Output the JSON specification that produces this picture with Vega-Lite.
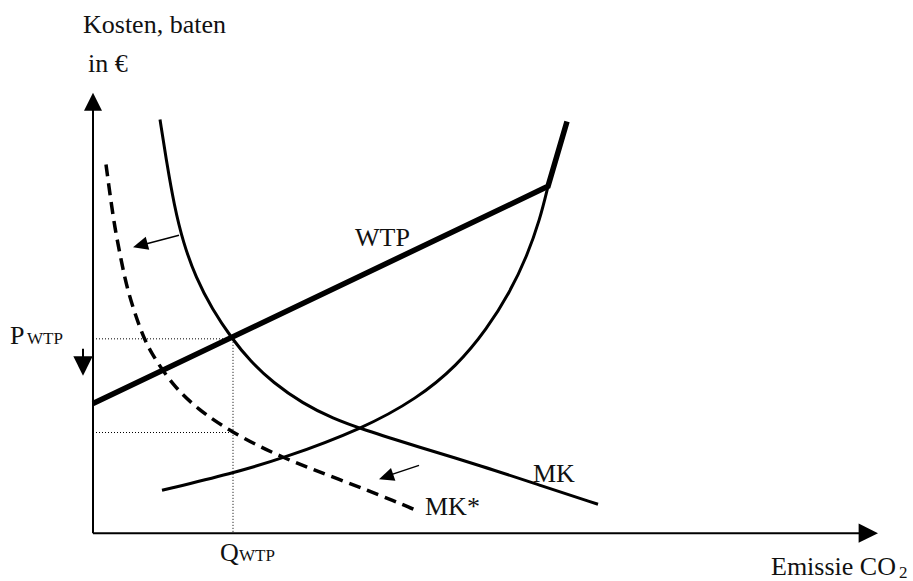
{
  "$schema": "https://vega.github.io/schema/vega-lite/v6.json",
  "width": 913,
  "height": 581,
  "autosize": {"type": "fit", "contains": "padding"},
  "padding": 0,
  "background": "white",
  "config": {"view": {"stroke": null}},
  "datasets": {
    "mk": [
      {"u": 67, "v": 415}, {"u": 74, "v": 370}, {"u": 81, "v": 330}, {"u": 90, "v": 292},
      {"u": 103, "v": 256}, {"u": 119, "v": 225}, {"u": 139, "v": 195}, {"u": 157, "v": 173},
      {"u": 180, "v": 151}, {"u": 210, "v": 130}, {"u": 240, "v": 115}, {"u": 270, "v": 104},
      {"u": 324, "v": 87}, {"u": 390, "v": 67}, {"u": 447, "v": 48}, {"u": 505, "v": 29}
    ],
    "ucurve": [
      {"u": 69, "v": 43}, {"u": 139, "v": 60}, {"u": 190, "v": 75}, {"u": 270, "v": 105},
      {"u": 324, "v": 135}, {"u": 364, "v": 168}, {"u": 394, "v": 205}, {"u": 417, "v": 242},
      {"u": 434, "v": 278}, {"u": 447, "v": 315}, {"u": 455, "v": 348}
    ],
    "mkstar": [
      {"u": 13, "v": 370}, {"u": 17, "v": 340}, {"u": 22, "v": 305}, {"u": 28, "v": 275},
      {"u": 34, "v": 245}, {"u": 47, "v": 205}, {"u": 57, "v": 182}, {"u": 80, "v": 148},
      {"u": 104, "v": 125}, {"u": 137, "v": 102}, {"u": 190, "v": 75}, {"u": 244, "v": 55},
      {"u": 307, "v": 30}, {"u": 325, "v": 22}
    ],
    "wtp": [
      {"u": 0, "v": 130}, {"u": 455, "v": 348}, {"u": 474, "v": 413}
    ],
    "axes": [
      {"u": 0, "v": 0, "u2": 0, "v2": 432},
      {"u": 0, "v": 0, "u2": 775, "v2": 0}
    ],
    "dots": [
      {"u": 0, "v": 195, "u2": 140, "v2": 195},
      {"u": 140, "v": 195, "u2": 140, "v2": 0},
      {"u": 0, "v": 101, "u2": 140, "v2": 101}
    ],
    "arrows": [
      {"u": 86, "v": 299, "u2": 48, "v2": 289},
      {"u": 326, "v": 68, "u2": 293, "v2": 57}
    ],
    "downarrow": [{"u": -10, "v": 185, "u2": -10, "v2": 168}],
    "tipY": [{"u": 0, "v": 442}],
    "tipX": [{"u": 785, "v": 0}],
    "tipDown": [{"u": -10, "v": 158}],
    "tip1": [{"u": 40, "v": 287}],
    "tip2": [{"u": 286, "v": 54}],
    "bigText": [
      {"u": -10, "v": 502, "t": "Kosten, baten"},
      {"u": -5, "v": 463, "t": "in €"},
      {"u": 262, "v": 288, "t": "WTP"},
      {"u": 440, "v": 51, "t": "MK"},
      {"u": 332, "v": 18, "t": "MK*"},
      {"u": -83, "v": 190, "t": "P"},
      {"u": 127, "v": -28, "t": "Q"},
      {"u": 678, "v": -42, "t": "Emissie CO"}
    ],
    "smallText": [
      {"u": -66, "v": 190, "t": "WTP"},
      {"u": 146, "v": -28, "t": "WTP"},
      {"u": 806, "v": -45, "t": "2"}
    ]
  },
  "encoding": {
    "x": {"field": "u", "type": "quantitative", "scale": {"domain": [-93, 820], "nice": false, "zero": false}, "axis": null},
    "y": {"field": "v", "type": "quantitative", "scale": {"domain": [-46, 535], "nice": false, "zero": false}, "axis": null}
  },
  "layer": [
    {"data": {"name": "dots"}, "mark": {"type": "rule", "color": "black", "strokeWidth": 1, "strokeDash": [1, 2]},
     "encoding": {"x2": {"field": "u2"}, "y2": {"field": "v2"}}},
    {"data": {"name": "axes"}, "mark": {"type": "rule", "color": "black", "strokeWidth": 2},
     "encoding": {"x2": {"field": "u2"}, "y2": {"field": "v2"}}},
    {"data": {"name": "ucurve"}, "mark": {"type": "line", "color": "black", "strokeWidth": 3, "interpolate": "basis"}, "encoding": {}},
    {"data": {"name": "mk"}, "mark": {"type": "line", "color": "black", "strokeWidth": 3, "interpolate": "basis"}, "encoding": {}},
    {"data": {"name": "mkstar"}, "mark": {"type": "line", "color": "black", "strokeWidth": 3.5, "strokeDash": [12, 7], "interpolate": "basis"}, "encoding": {}},
    {"data": {"name": "wtp"}, "mark": {"type": "line", "color": "black", "strokeWidth": 5.5, "strokeJoin": "miter"}, "encoding": {}},
    {"data": {"name": "arrows"}, "mark": {"type": "rule", "color": "black", "strokeWidth": 1.5},
     "encoding": {"x2": {"field": "u2"}, "y2": {"field": "v2"}}},
    {"data": {"name": "downarrow"}, "mark": {"type": "rule", "color": "black", "strokeWidth": 2},
     "encoding": {"x2": {"field": "u2"}, "y2": {"field": "v2"}}},
    {"data": {"name": "tipY"}, "mark": {"type": "point", "shape": "M0,0L-0.5,1L0.5,1Z", "filled": true, "opacity": 1, "color": "black", "strokeWidth": 0, "size": 1300, "angle": 0}},
    {"data": {"name": "tipX"}, "mark": {"type": "point", "shape": "M0,0L-0.5,1L0.5,1Z", "filled": true, "opacity": 1, "color": "black", "strokeWidth": 0, "size": 1500, "angle": 90}},
    {"data": {"name": "tipDown"}, "mark": {"type": "point", "shape": "M0,0L-0.5,1L0.5,1Z", "filled": true, "opacity": 1, "color": "black", "strokeWidth": 0, "size": 1500, "angle": 180}},
    {"data": {"name": "tip1"}, "mark": {"type": "point", "shape": "M0,0L-0.45,1L0.45,1Z", "filled": true, "opacity": 1, "color": "black", "strokeWidth": 0, "size": 900, "angle": 255}},
    {"data": {"name": "tip2"}, "mark": {"type": "point", "shape": "M0,0L-0.45,1L0.45,1Z", "filled": true, "opacity": 1, "color": "black", "strokeWidth": 0, "size": 900, "angle": 251}},
    {"data": {"name": "bigText"}, "mark": {"type": "text", "font": "Liberation Serif", "fontSize": 26, "color": "#111", "align": "left", "baseline": "alphabetic"},
     "encoding": {"text": {"field": "t"}}},
    {"data": {"name": "smallText"}, "mark": {"type": "text", "font": "Liberation Serif", "fontSize": 17, "color": "#111", "align": "left", "baseline": "alphabetic"},
     "encoding": {"text": {"field": "t"}}}
  ]
}
